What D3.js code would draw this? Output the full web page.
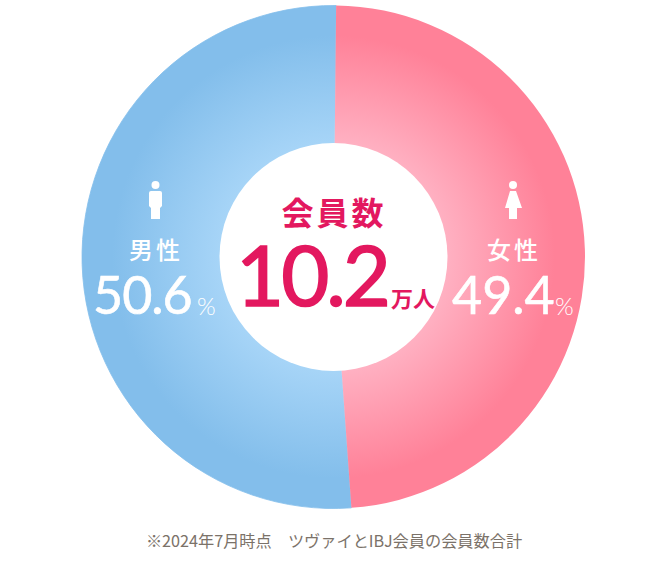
<!DOCTYPE html>
<html><head><meta charset="utf-8">
<script src="https://cdn.jsdelivr.net/npm/d3@7"></script>
<style>html,body{margin:0;padding:0;background:#fff}svg{display:block}</style>
</head><body><div id="c"></div>
<script>
const categories = ["女性", "男性"];
const labelValues = ["49.4", "50.6"];
// slice shares as actually drawn in the picture (the printed wedge is slightly off its labels)
const drawnShares = [48.7, 51.3];
const innerColors = ["#ffb4c5", "#a9d6f8"];
const outerColors = ["#ff8198", "#83beeb"];
const centerTitle = "会員数";
const centerValue = "10.2";
const centerUnit = "万人";
const footnote = "※2024年7月時点　ツヴァイとIBJ会員の会員数合計";

const W = 646, H = 561, cx = 333.5, cy = 257, R = 251.5, r = 114;
const svg = d3.select("#c").append("svg").attr("width", W).attr("height", H);
const defs = svg.append("defs");
categories.forEach((c, i) => {
  const g = defs.append("radialGradient").attr("id", "g" + i)
    .attr("gradientUnits", "userSpaceOnUse").attr("cx", 0).attr("cy", 0).attr("r", R);
  g.append("stop").attr("offset", "0.42").attr("stop-color", innerColors[i]);
  g.append("stop").attr("offset", "0.88").attr("stop-color", outerColors[i]);
});
const start = 0.6 * Math.PI / 180;
const pie = d3.pie().sort(null).startAngle(start).endAngle(start + 2 * Math.PI);
const arc = d3.arc().innerRadius(0).outerRadius(R);
const slices = pie(drawnShares);
const wedgeGroup = svg.append("g").attr("transform", `translate(${cx},${cy})`);
wedgeGroup.selectAll("path").data([slices[1], slices[0]]).join("path")
  .attr("d", arc).attr("fill", d => `url(#g${d.index})`)
  .attr("stroke", d => d.index === 1 ? `url(#g1)` : "none").attr("stroke-width", 0.8);
svg.append("circle").attr("cx", cx).attr("cy", cy).attr("r", r).attr("fill", "#fff");

const jp = "'Noto Sans CJK JP','Noto Sans',sans-serif";
const num = "Lato,'Open Sans',sans-serif";
function t(x, y, s, size, fill, family, weight, anchor, spacing, stroke) {
  const e = svg.append("text").attr("x", x).attr("y", y).text(s)
    .attr("font-size", size).attr("fill", fill).attr("font-family", family)
    .attr("font-weight", weight).attr("text-anchor", anchor || "middle")
    .attr("letter-spacing", spacing || 0);
  if (stroke) e.attr("stroke", fill).attr("stroke-width", stroke);
  return e;
}
const pink = "#e3185f";
t(334, 225, centerTitle, 32, pink, jp, 700, "middle", 3);
t(236, 306, centerValue, 83, pink, num, 400, "start", -3, 1.6);
t(391, 307, centerUnit, 22, pink, jp, 700, "start", 0);

// labels
t(156, 259, categories[1], 24, "#fff", jp, 500, "middle", 3);
t(514, 259, categories[0], 24, "#fff", jp, 500, "middle", 3);
t(93, 314, labelValues[1], 52, "#fff", num, 400, "start", -1, 0.6);
t(197, 315, "%", 24, "#fff", num, 300, "start");
t(452, 314, labelValues[0], 52, "#fff", num, 400, "start", 0, 0.6);
t(555, 315, "%", 24, "#fff", num, 300, "start");

// person icons
svg.append("circle").attr("cx", 155.5).attr("cy", 185).attr("r", 4).attr("fill", "#fff");
svg.append("path").attr("fill", "#fff")
  .attr("d", "M149,193 Q149,191 151,191 L160,191 Q162,191 162,193 L162,206 L160,208 L160,219 L151,219 L151,208 L149,206 Z");
svg.append("circle").attr("cx", 513).attr("cy", 185).attr("r", 4).attr("fill", "#fff");
svg.append("path").attr("fill", "#fff")
  .attr("d", "M510,191 L516,191 L522,208 L517,208 L517,219 L509,219 L509,208 L505,208 Z");

t(334, 547, footnote, 16.2, "#7b7269", jp, 400);
</script></body></html>
